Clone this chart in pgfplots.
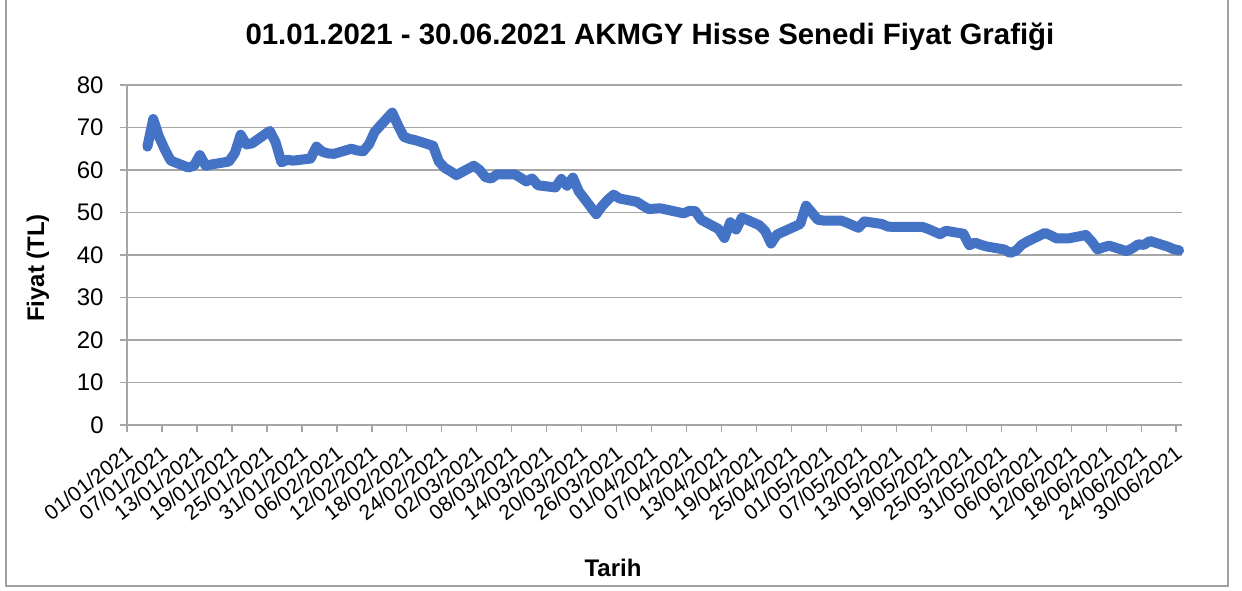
\documentclass[border=0pt]{standalone}
\usepackage{pgfplots}
\pgfplotsset{compat=1.18}
\usepackage{fontspec}
\setmainfont{Liberation Sans}
\definecolor{lineblue}{HTML}{4472C4}
\definecolor{gridgray}{HTML}{A6A6A6}
\definecolor{framegray}{HTML}{A0A0A0}
\pgfplotstableread{
x y
3.5 65.5
4.5 72.0
5.5 67.8
6.5 64.8
7.5 62.2
10.5 60.6
11.5 61.0
12.5 63.5
13.5 61.0
14.5 61.3
17.5 62.0
18.5 64.0
19.5 68.3
20.5 66.0
21.5 66.3
24.5 69.2
25.5 66.5
26.5 61.8
27.5 62.4
28.5 62.2
31.5 62.7
32.5 65.5
33.5 64.3
34.5 63.9
35.5 63.8
38.5 65.0
39.5 64.6
40.5 64.4
41.5 66.0
42.5 69.0
45.5 73.5
46.5 70.5
47.5 67.8
48.5 67.3
49.5 67.0
52.5 65.7
53.5 62.0
54.5 60.5
55.5 59.7
56.5 58.8
59.5 61.0
60.5 60.0
61.5 58.3
62.5 58.0
63.5 59.0
66.5 59.0
67.5 58.2
68.5 57.3
69.5 58.0
70.5 56.4
73.5 55.9
74.5 57.9
75.5 56.3
76.5 58.2
77.5 55.0
80.5 49.6
81.5 51.5
82.5 53.0
83.5 54.2
84.5 53.3
87.5 52.5
88.5 51.6
89.5 50.8
90.5 50.9
91.5 51.0
94.5 50.1
95.5 49.8
96.5 50.4
97.5 50.3
98.5 48.3
101.5 46.1
102.5 44.0
103.5 47.7
104.5 46.0
105.5 48.8
108.5 47.0
109.5 45.6
110.5 42.7
111.5 44.8
115.5 47.3
116.5 51.6
117.5 50.0
118.5 48.3
119.5 48.1
122.5 48.1
123.5 47.6
124.5 47.0
125.5 46.4
126.5 47.9
129.5 47.3
130.5 46.7
131.5 46.6
136.5 46.6
137.5 46.1
139.5 44.9
140.5 45.7
143.5 45.0
144.5 42.3
145.5 42.9
146.5 42.4
147.5 42.0
150.5 41.3
151.5 40.5
152.5 41.0
153.5 42.4
154.5 43.2
157.5 45.2
158.5 44.6
159.5 43.9
160.5 43.9
161.5 43.9
164.5 44.7
165.5 43.2
166.5 41.3
167.5 41.8
168.5 42.2
171.5 40.9
172.5 41.6
173.5 42.5
174.5 42.4
175.5 43.3
178.5 42.0
179.5 41.4
180.5 41.1
}\pricedata
\begin{document}
\begin{tikzpicture}[x=1pt,y=1pt]
\useasboundingbox (0,0) rectangle (621,295);
\fill[white] (0,0) rectangle (621,295);
\draw[framegray, line width=0.7pt] (3,2) rectangle (614,300);
\begin{axis}[
  at={(63.5pt,82.5pt)}, anchor=south west,
  scale only axis, width=527.5pt, height=170pt,
  xmin=0, xmax=181, ymin=0, ymax=80,
  axis x line*=bottom, axis y line*=left,
  xtick={0,6,...,180},
  xticklabels={01/01/2021,07/01/2021,13/01/2021,19/01/2021,25/01/2021,31/01/2021,06/02/2021,12/02/2021,18/02/2021,24/02/2021,02/03/2021,08/03/2021,14/03/2021,20/03/2021,26/03/2021,01/04/2021,07/04/2021,13/04/2021,19/04/2021,25/04/2021,01/05/2021,07/05/2021,13/05/2021,19/05/2021,25/05/2021,31/05/2021,06/06/2021,12/06/2021,18/06/2021,24/06/2021,30/06/2021},
  ytick={0,10,...,80},
  ymajorgrids,
  grid style={gridgray, line width=0.7pt},
  axis line style={gridgray, line width=0.7pt},
  tick style={gridgray, line width=0.7pt},
  tick align=outside, major tick length=3.5pt,
  /pgf/number format/assume math mode=true,
  yticklabel style={font=\fontsize{12}{14}\selectfont, anchor=east, inner sep=0pt, xshift=-8pt},
  xticklabel style={font=\fontsize{10.5}{12}\selectfont, rotate=38, anchor=north east, inner sep=0pt, xshift=-4.5pt, yshift=-4pt},
  clip=false,
]
\addplot[lineblue, line width=5pt, line join=round, line cap=round] table[x=x,y=y] {\pricedata};
\end{axis}
\node[font=\fontsize{14.7}{17}\selectfont\bfseries] at (325,276.5) {01.01.2021 - 30.06.2021 AKMGY Hisse Senedi Fiyat Grafiği};
\node[font=\fontsize{12}{14}\selectfont\bfseries, rotate=90] at (19,161) {Fiyat (TL)};
\node[font=\fontsize{12}{14}\selectfont\bfseries, anchor=base] at (306.5,6.65) {Tarih};
\end{tikzpicture}
\end{document}
